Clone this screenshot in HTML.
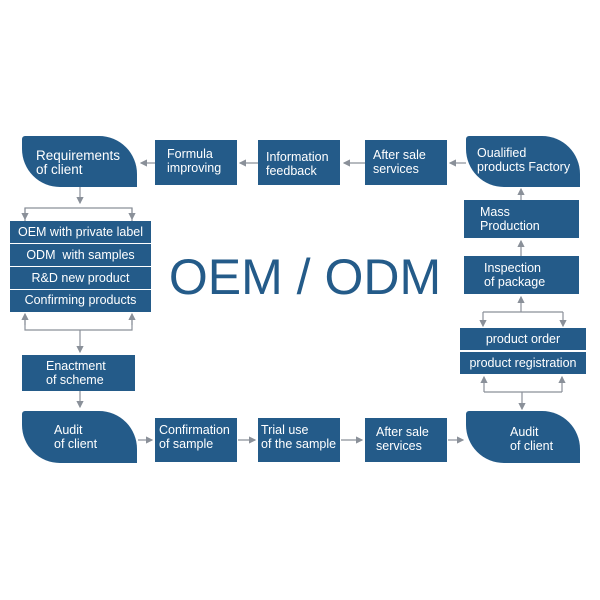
<!DOCTYPE html>
<html><head><meta charset="utf-8"><style>
body{margin:0;width:600px;height:600px;background:#fff;position:relative;overflow:hidden;font-family:"Liberation Sans","DejaVu Sans",sans-serif;}
.b{position:absolute;background:#245b89;color:#fff;font-size:12.5px;line-height:14px;box-sizing:border-box;}
.r{border-radius:3px 38px 0 38px;}
.c{text-align:center;}
.big{position:absolute;left:160px;top:248px;width:290px;text-align:center;font-size:50px;color:#245b89;letter-spacing:0px;}
svg{position:absolute;left:0;top:0;}
</style></head><body>
<svg width="600" height="600">
<defs><marker id="a" markerWidth="6" markerHeight="6" refX="5" refY="3" orient="auto"><path d="M0,0 L6,3 L0,6 z" fill="#8a9099"/></marker></defs>
<g stroke="#8a9099" stroke-width="1.2" fill="none">
<line x1="155" y1="163" x2="141" y2="163" marker-end="url(#a)"/>
<line x1="258" y1="163" x2="240" y2="163" marker-end="url(#a)"/>
<line x1="365" y1="163" x2="344" y2="163" marker-end="url(#a)"/>
<line x1="466" y1="163" x2="450" y2="163" marker-end="url(#a)"/>
<line x1="80" y1="187" x2="80" y2="203" marker-end="url(#a)"/>
<polyline points="25,221 25,208 132,208 132,221"/>
<line x1="25" y1="208" x2="25" y2="219" marker-end="url(#a)"/>
<line x1="132" y1="208" x2="132" y2="219" marker-end="url(#a)"/>
<polyline points="25,316 25,330 132,330 132,316"/>
<line x1="25" y1="325" x2="25" y2="314" marker-end="url(#a)"/>
<line x1="132" y1="325" x2="132" y2="314" marker-end="url(#a)"/>
<line x1="80" y1="330" x2="80" y2="352" marker-end="url(#a)"/>
<line x1="80" y1="391" x2="80" y2="407" marker-end="url(#a)"/>
<line x1="138" y1="440" x2="152" y2="440" marker-end="url(#a)"/>
<line x1="238" y1="440" x2="255" y2="440" marker-end="url(#a)"/>
<line x1="341" y1="440" x2="362" y2="440" marker-end="url(#a)"/>
<line x1="448" y1="440" x2="463" y2="440" marker-end="url(#a)"/>
<line x1="521" y1="200" x2="521" y2="189" marker-end="url(#a)"/>
<line x1="521" y1="256" x2="521" y2="241" marker-end="url(#a)"/>
<line x1="521" y1="312" x2="521" y2="297" marker-end="url(#a)"/>
<polyline points="483,312 563,312"/>
<line x1="483" y1="312" x2="483" y2="326" marker-end="url(#a)"/>
<line x1="563" y1="312" x2="563" y2="326" marker-end="url(#a)"/>
<polyline points="484,392 562,392"/>
<line x1="484" y1="392" x2="484" y2="377" marker-end="url(#a)"/>
<line x1="562" y1="392" x2="562" y2="377" marker-end="url(#a)"/>
<line x1="522" y1="392" x2="522" y2="409" marker-end="url(#a)"/>
</g></svg>
<div class="b r" style="left:22px;top:136px;width:115px;height:51px;padding:13px 0 0 14px;font-size:13.5px;">Requirements<br>of client</div>
<div class="b" style="left:155px;top:140px;width:82px;height:45px;padding:7px 0 0 12px;">Formula<br>improving</div>
<div class="b" style="left:258px;top:140px;width:82px;height:45px;padding:10px 0 0 8px;">Information<br>feedback</div>
<div class="b" style="left:365px;top:140px;width:82px;height:45px;padding:8px 0 0 8px;">After sale<br>services</div>
<div class="b r" style="left:466px;top:136px;width:114px;height:51px;padding:10px 0 0 11px;">Oualified<br>products Factory</div>
<div class="b" style="left:464px;top:200px;width:115px;height:38px;padding:5px 0 0 16px;">Mass<br>Production</div>
<div class="b" style="left:464px;top:256px;width:115px;height:38px;padding:5px 0 0 20px;">Inspection<br>of package</div>
<div class="b c" style="left:460px;top:328px;width:126px;height:22px;padding-top:4px;">product order</div>
<div class="b c" style="left:460px;top:352px;width:126px;height:22px;padding-top:4px;">product registration</div>
<div class="b c" style="left:10px;top:221px;width:141px;height:22px;padding-top:4px;">OEM with private label</div>
<div class="b c" style="left:10px;top:244px;width:141px;height:22px;padding-top:4px;">ODM &nbsp;with samples</div>
<div class="b c" style="left:10px;top:267px;width:141px;height:22px;padding-top:4px;">R&amp;D new product</div>
<div class="b c" style="left:10px;top:290px;width:141px;height:22px;padding-top:3px;">Confirming products</div>
<div class="b" style="left:22px;top:355px;width:113px;height:36px;padding:4px 0 0 24px;">Enactment<br>of scheme</div>
<div class="b r" style="left:22px;top:411px;width:115px;height:52px;padding:12px 0 0 32px;">Audit<br>of client</div>
<div class="b" style="left:155px;top:418px;width:82px;height:44px;padding:5px 0 0 4px;">Confirmation<br>of sample</div>
<div class="b" style="left:258px;top:418px;width:82px;height:44px;padding:5px 0 0 3px;">Trial use<br>of the sample</div>
<div class="b" style="left:365px;top:418px;width:82px;height:44px;padding:7px 0 0 11px;">After sale<br>services</div>
<div class="b r" style="left:466px;top:411px;width:114px;height:52px;padding:14px 0 0 44px;">Audit<br>of client</div>
<div class="big">OEM / ODM</div>
</body></html>
